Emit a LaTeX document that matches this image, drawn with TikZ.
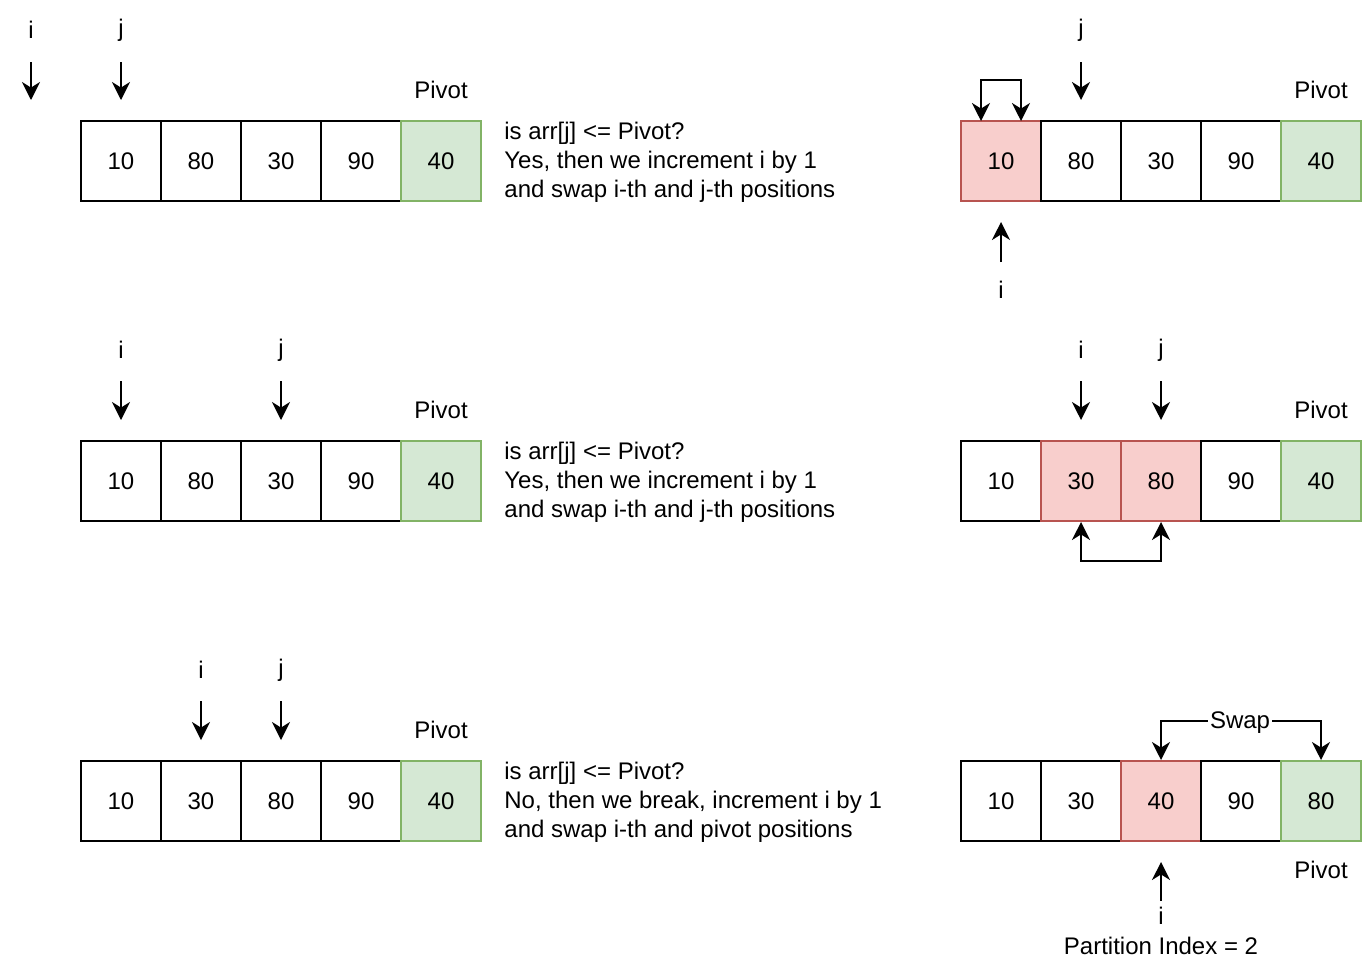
\documentclass[tikz,border=0pt]{standalone}
\usepackage{fontspec}
\setmainfont{Liberation Sans}
\usetikzlibrary{arrows.meta}
\definecolor{redfill}{HTML}{F8CECC}
\definecolor{redline}{HTML}{B85450}
\definecolor{greenfill}{HTML}{D5E8D4}
\definecolor{greenline}{HTML}{82B366}
\begin{document}
\begin{tikzpicture}[x=0.5pt,y=-0.5pt,
  every node/.style={font=\fontsize{12}{14.5}\selectfont},
  cell/.style={draw=black,line width=1pt,fill=white,minimum width=40pt,minimum height=40pt,inner sep=0pt},
  hl/.style={cell,draw=redline,fill=redfill},
  pv/.style={cell,draw=greenline,fill=greenfill},
  lbl/.style={inner sep=0pt},
  ptr/.style={line width=1pt,-{Stealth[length=9pt,width=9pt,inset=2.8pt]}},
  bptr/.style={line width=1pt,{Stealth[length=9pt,width=9pt,inset=2.8pt]}-{Stealth[length=9pt,width=9pt,inset=2.8pt]}},
  desc/.style={anchor=west,align=left,inner sep=0pt},
]
\useasboundingbox (0,0) rectangle (1370,970);

% ---------- Row 1 left ----------
\node[cell] (a1) at (121,161) {10};
\node[cell] (a2) at (201,161) {80};
\node[cell] (a3) at (281,161) {30};
\node[cell] (a4) at (361,161) {90};
\node[pv]   (a5) at (441,161) {40};
\node[lbl] (ai) at (31,30) {i};
\node[lbl] (aj) at (121,30) {j};
\coordinate (ais) at (31,62);  \coordinate (aie) at (31,100);
\coordinate (ajs) at (121,62); \coordinate (aje) at (121,100);
\draw[ptr] (ais) -- (aie);
\draw[ptr] (ajs) -- (aje);
\node[lbl] (ap) at (441,90) {Pivot};
\node[desc] (at) at (504,162.5) {is arr[j] <= Pivot?\\Yes, then we increment i by 1\\and swap i-th and j-th positions};

% ---------- Row 1 right ----------
\node[hl]   (b1) at (1001,161) {10};
\node[cell] (b2) at (1081,161) {80};
\node[cell] (b3) at (1161,161) {30};
\node[cell] (b4) at (1241,161) {90};
\node[pv]   (b5) at (1321,161) {40};
\node[lbl] (bj) at (1081,30) {j};
\coordinate (bjs) at (1081,62); \coordinate (bje) at (1081,100);
\draw[ptr] (bjs) -- (bje);
\node[lbl] (bp) at (1321,90) {Pivot};
\coordinate (bsl) at (981,121); \coordinate (bsr) at (1021,121);
\draw[bptr] (bsl) -- (981,80) -- (1021,80) -- (bsr);
\node[lbl] (bi) at (1001,290) {i};
\coordinate (bis) at (1001,262); \coordinate (bie) at (1001,222);
\draw[ptr] (bis) -- (bie);

% ---------- Row 2 left ----------
\node[cell] (c1) at (121,481) {10};
\node[cell] (c2) at (201,481) {80};
\node[cell] (c3) at (281,481) {30};
\node[cell] (c4) at (361,481) {90};
\node[pv]   (c5) at (441,481) {40};
\node[lbl] (ci) at (121,350) {i};
\node[lbl] (cj) at (281,350) {j};
\coordinate (cis) at (121,381); \coordinate (cie) at (121,420);
\coordinate (cjs) at (281,381); \coordinate (cje) at (281,420);
\draw[ptr] (cis) -- (cie);
\draw[ptr] (cjs) -- (cje);
\node[lbl] (cp) at (441,410) {Pivot};
\node[desc] (ct) at (504,482.5) {is arr[j] <= Pivot?\\Yes, then we increment i by 1\\and swap i-th and j-th positions};

% ---------- Row 2 right ----------
\node[cell] (d1) at (1001,481) {10};
\node[hl]   (d2) at (1081,481) {30};
\node[hl]   (d3) at (1161,481) {80};
\node[cell] (d4) at (1241,481) {90};
\node[pv]   (d5) at (1321,481) {40};
\node[lbl] (di) at (1081,350) {i};
\node[lbl] (dj) at (1161,350) {j};
\coordinate (dis) at (1081,381); \coordinate (die) at (1081,420);
\coordinate (djs) at (1161,381); \coordinate (dje) at (1161,420);
\draw[ptr] (dis) -- (die);
\draw[ptr] (djs) -- (dje);
\node[lbl] (dp) at (1321,410) {Pivot};
\draw[bptr] (d2.south) -- (1081,561) -- (1161,561) -- (d3.south);

% ---------- Row 3 left ----------
\node[cell] (e1) at (121,801) {10};
\node[cell] (e2) at (201,801) {30};
\node[cell] (e3) at (281,801) {80};
\node[cell] (e4) at (361,801) {90};
\node[pv]   (e5) at (441,801) {40};
\node[lbl] (ei) at (201,670) {i};
\node[lbl] (ej) at (281,670) {j};
\coordinate (eis) at (201,701); \coordinate (eie) at (201,740);
\coordinate (ejs) at (281,701); \coordinate (eje) at (281,740);
\draw[ptr] (eis) -- (eie);
\draw[ptr] (ejs) -- (eje);
\node[lbl] (ep) at (441,730) {Pivot};
\node[desc] (et) at (504,802.5) {is arr[j] <= Pivot?\\No, then we break, increment i by 1\\and swap i-th and pivot positions};

% ---------- Row 3 right ----------
\node[cell] (f1) at (1001,801) {10};
\node[cell] (f2) at (1081,801) {30};
\node[hl]   (f3) at (1161,801) {40};
\node[cell] (f4) at (1241,801) {90};
\node[pv]   (f5) at (1321,801) {80};
\draw[bptr] (f3.north) -- (1161,721) -- (1321,721) -- (f5.north);
\node[lbl,fill=white,inner xsep=1pt] (fs) at (1240,722.5) {Swap};
\node[lbl] (fp) at (1321,870) {Pivot};
\coordinate (fis) at (1161,901); \coordinate (fie) at (1161,862);
\draw[ptr] (fis) -- (fie);
\node[lbl] (fi) at (1161,916) {i};
\node[lbl] (fx) at (1161,946) {Partition Index = 2};
\end{tikzpicture}
\end{document}
